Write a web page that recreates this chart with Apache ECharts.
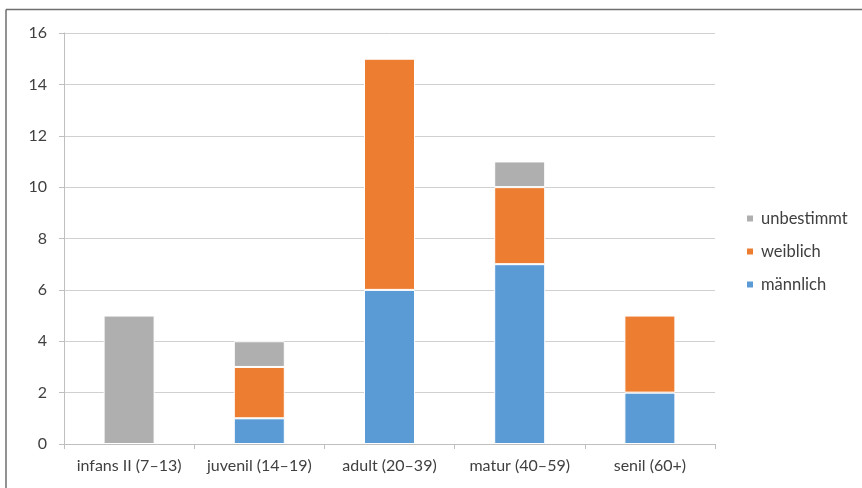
<!DOCTYPE html>
<html>
<head>
<meta charset="utf-8">
<script src="https://cdn.jsdelivr.net/npm/echarts@6/dist/echarts.min.js"></script>
<style>
  html, body { margin: 0; padding: 0; background: #fff; }
  #chart { width: 862px; height: 488px; }
</style>
</head>
<body>
<div id="chart"></div>
<script>
// Altersklassen (x-Achse)
const categories = ['infans II (7–13)', 'juvenil (14–19)', 'adult (20–39)', 'matur (40–59)', 'senil (60+)'];
// Anzahl Individuen je Geschlecht
const maennlich = [0, 1, 6, 7, 2];
const weiblich = [0, 2, 9, 3, 3];
const unbestimmt = [5, 1, 0, 1, 0];
// y-Achse
const yMin = 0;
const yMax = 16;
const yStep = 2;

const FONT = 'Lato, "Liberation Sans", sans-serif';
const TEXT = '#404040';

// zero counts are simply not drawn
const toData = arr => arr.map(v => (v === 0 ? '-' : v));

const chart = echarts.init(document.getElementById('chart'), null, { renderer: 'canvas' });

const barStyle = color => ({ color: color, borderColor: '#ffffff', borderWidth: 1 });

chart.setOption({
  animation: false,
  backgroundColor: '#ffffff',
  textStyle: { fontFamily: FONT, color: TEXT },
  grid: { left: 64, right: 147, top: 33, bottom: 44, containLabel: false },
  legend: {
    orient: 'vertical',
    left: 745,
    top: 210,
    padding: 0,
    itemWidth: 8,
    itemHeight: 8,
    itemGap: 16,
    icon: 'rect',
    textStyle: { fontFamily: FONT, fontSize: 16.5, color: TEXT, lineHeight: 17, padding: [0, 0, 0, 2] },
    data: ['unbestimmt', 'weiblich', 'männlich']
  },
  xAxis: {
    type: 'category',
    data: categories,
    boundaryGap: true,
    axisLine: { show: true, lineStyle: { color: '#bfbfbf', width: 1 } },
    axisTick: { show: true, length: 5, interval: 0, alignWithLabel: false, lineStyle: { color: '#bfbfbf' } },
    axisLabel: { interval: 0, hideOverlap: false, fontFamily: FONT, fontSize: 16, color: TEXT, margin: 14 }
  },
  yAxis: {
    type: 'value',
    min: yMin,
    max: yMax,
    interval: yStep,
    axisLine: { show: true, lineStyle: { color: '#bfbfbf', width: 1 } },
    axisTick: { show: true, length: 5, lineStyle: { color: '#bfbfbf' } },
    axisLabel: { fontFamily: FONT, fontSize: 16, color: TEXT, margin: 17 },
    splitLine: { show: true, lineStyle: { color: '#d0d0d0', width: 1 } }
  },
  series: [
    { name: 'männlich', type: 'bar', stack: 'total', barWidth: 51, data: toData(maennlich), itemStyle: barStyle('#5b9bd5') },
    { name: 'weiblich', type: 'bar', stack: 'total', barWidth: 51, data: toData(weiblich), itemStyle: barStyle('#ed7d31') },
    { name: 'unbestimmt', type: 'bar', stack: 'total', barWidth: 51, data: toData(unbestimmt), itemStyle: barStyle('#afafaf') }
  ],
  graphic: [
    // frame around the chart (top and left edges)
    { type: 'line', shape: { x1: 6, y1: 9.5, x2: 862, y2: 9.5 }, style: { stroke: '#6e6e6e', lineWidth: 1.5 }, silent: true },
    { type: 'line', shape: { x1: 6, y1: 9.5, x2: 6, y2: 488 }, style: { stroke: '#6e6e6e', lineWidth: 1.5 }, silent: true }
  ]
});
</script>
</body>
</html>
